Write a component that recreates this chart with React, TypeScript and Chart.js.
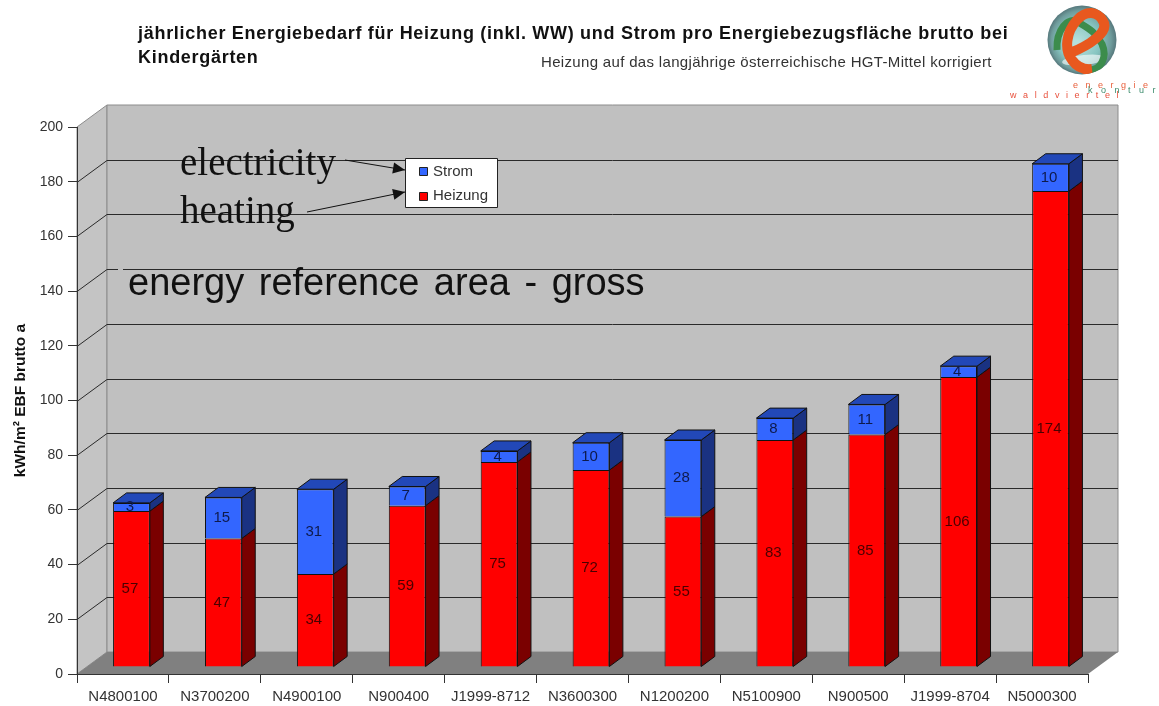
import React, { useEffect, useRef } from "react";
import { Chart, registerables } from "chart.js";

Chart.register(...registerables);

const categories = ["N4800100", "N3700200", "N4900100", "N900400", "J1999-8712", "N3600300", "N1200200", "N5100900", "N900500", "J1999-8704", "N5000300"];
const heizung = [57, 47, 34, 59, 75, 72, 55, 83, 85, 106, 174];
const strom = [3, 15, 31, 7, 4, 10, 28, 8, 11, 4, 10];
const yTitle = "kWh/m² EBF brutto a";
const titleLines = ["jährlicher Energiebedarf für Heizung (inkl. WW) und Strom pro Energiebezugsfläche brutto bei", "Kindergärten"];
const subtitle = "Heizung auf das langjährige österreichische HGT-Mittel korrigiert";

const DEPTH_X = 30, DEPTH_Y = -22;
const BAR_OX = 8.5, BAR_OY = -7;
const SIDE_X = 13.5, SIDE_Y = -10;
const SANS = '"Liberation Sans", Arial, sans-serif';
const SERIF = '"Liberation Serif", "Times New Roman", serif';

function poly(ctx: any, pts: number[][], fill: string | null, stroke: string | null, lw = 1) {
  ctx.beginPath();
  pts.forEach((p, i) => (i ? ctx.lineTo(p[0], p[1]) : ctx.moveTo(p[0], p[1])));
  ctx.closePath();
  if (fill) { ctx.fillStyle = fill; ctx.fill(); }
  if (stroke) { ctx.strokeStyle = stroke; ctx.lineWidth = lw; ctx.stroke(); }
}

function text(ctx: any, s: string, x: number, y: number, font: string, color: string, spacing = 0, wordSpacing = 0) {
  ctx.font = font;
  ctx.fillStyle = color;
  ctx.textAlign = "left";
  ctx.textBaseline = "alphabetic";
  ctx.letterSpacing = spacing + "px";
  ctx.wordSpacing = wordSpacing + "px";
  ctx.fillText(s, x, y);
  ctx.letterSpacing = "0px";
  ctx.wordSpacing = "0px";
}

function arrow(ctx: any, x0: number, y0: number, x1: number, y1: number) {
  ctx.strokeStyle = "#111";
  ctx.lineWidth = 1;
  ctx.beginPath(); ctx.moveTo(x0, y0); ctx.lineTo(x1, y1); ctx.stroke();
  const a = Math.atan2(y1 - y0, x1 - x0), l = 12, w = 5.5;
  const bx = x1 - l * Math.cos(a), by = y1 - l * Math.sin(a);
  poly(ctx, [[x1, y1], [bx - w * Math.sin(a), by + w * Math.cos(a)], [bx + w * Math.sin(a), by - w * Math.cos(a)]], "#111", null);
}

function drawLogo(ctx: any) {
  const cx = 1082, cy = 40, r = 34.5;
  ctx.save();
  const g = ctx.createRadialGradient(cx - 6, cy + 4, 4, cx, cy, r);
  g.addColorStop(0, "#b5e0dc");
  g.addColorStop(0.55, "#86c4c0");
  g.addColorStop(0.85, "#6f9c9c");
  g.addColorStop(1, "#56787c");
  ctx.beginPath(); ctx.arc(cx, cy, r, 0, Math.PI * 2); ctx.fillStyle = g; ctx.fill();
  ctx.beginPath(); ctx.arc(cx, cy, r, 0, Math.PI * 2); ctx.clip();
  ctx.fillStyle = "rgba(255,255,255,0.6)";
  ctx.beginPath(); ctx.ellipse(cx + 2, cy + 20, 22, 5, -0.1, 0, Math.PI * 2); ctx.fill();
  ctx.lineCap = "butt";
  ctx.strokeStyle = "#3c8c4c";
  ctx.lineWidth = 7;
  ctx.beginPath();
  ctx.moveTo(cx - 25, cy + 10);
  ctx.bezierCurveTo(cx - 26, cy - 10, cx - 14, cy - 24, cx - 4, cy - 18);
  ctx.bezierCurveTo(cx + 6, cy - 12, cx + 14, cy - 8, cx + 20, cy + 4);
  ctx.bezierCurveTo(cx + 26, cy + 18, cx + 18, cy + 30, cx + 8, cy + 30);
  ctx.stroke();
  ctx.strokeStyle = "#e8581e";
  ctx.lineWidth = 10;
  ctx.beginPath();
  ctx.moveTo(cx - 12, cy + 13);
  ctx.bezierCurveTo(cx + 6, cy + 6, cx + 28, cy - 8, cx + 21, cy - 19);
  ctx.bezierCurveTo(cx + 16, cy - 29, cx + 4, cy - 30, cx - 5, cy - 20);
  ctx.bezierCurveTo(cx - 16, cy - 8, cx - 18, cy + 10, cx - 10, cy + 20);
  ctx.bezierCurveTo(cx - 5, cy + 27, cx + 2, cy + 30, cx + 10, cy + 29);
  ctx.stroke();
  ctx.restore();
  text(ctx, "energie", 1073, 88, `9px ${SANS}`, "#e8603c", 7.5);
  text(ctx, "kontur", 1088, 93, `9px ${SANS}`, "#3c8c6c", 8.5);
  text(ctx, "waldviertel", 1010, 98, `9px ${SANS}`, "#e8503c", 6.6);
}

const decor = {
  id: "decor",
  beforeDraw(chart: any) {
    const { ctx, chartArea: a, scales } = chart;
    const y = scales.y;
    ctx.save();
    ctx.fillStyle = "#fff";
    ctx.fillRect(0, 0, chart.width, chart.height);
    const l = a.left, r = a.right, t = a.top, b = a.bottom;
    const bl = l + DEPTH_X, br = r + DEPTH_X, bt = t + DEPTH_Y, bb = b + DEPTH_Y;
    poly(ctx, [[l, t], [bl, bt], [bl, bb], [l, b]], "#c4c4c4", "#8c8c8c");
    poly(ctx, [[bl, bt], [br, bt], [br, bb], [bl, bb]], "#c0c0c0", "#8c8c8c");
    poly(ctx, [[l, b], [bl, bb], [br, bb], [r, b]], "#808080", null);
    ctx.strokeStyle = "#2a2a2a";
    ctx.lineWidth = 1;
    y.ticks.forEach((tk: any) => {
      if (tk.value === 0 || tk.value === 200) return;
      const py = Math.round(y.getPixelForValue(tk.value)) + 0.5;
      ctx.beginPath();
      ctx.moveTo(l, py);
      ctx.lineTo(bl, py + DEPTH_Y);
      ctx.lineTo(br, py + DEPTH_Y);
      ctx.stroke();
    });
    ctx.fillStyle = "#c0c0c0";
    ctx.fillRect(118, y.getPixelForValue(140) + DEPTH_Y - 1, 5, 3);
    ctx.restore();
  },
  beforeDatasetsDraw(chart: any) {
    const { ctx } = chart;
    ctx.save();
    ctx.translate(BAR_OX, BAR_OY);
    const sideColors = ["#7a0000", "#1a3282"];
    chart.data.datasets.forEach((_: any, di: number) => {
      chart.getDatasetMeta(di).data.forEach((el: any) => {
        const right = el.x + el.width / 2, left = el.x - el.width / 2;
        const top = el.y, bot = el.base;
        poly(ctx, [[right, top], [right + SIDE_X, top + SIDE_Y], [right + SIDE_X, bot + SIDE_Y], [right, bot]], sideColors[di], "#111");
        if (di === chart.data.datasets.length - 1) {
          poly(ctx, [[left, top], [left + SIDE_X, top + SIDE_Y], [right + SIDE_X, top + SIDE_Y], [right, top]], "#2248b8", "#111");
        }
      });
    });
  },
  afterDatasetsDraw(chart: any) {
    const { ctx } = chart;
    ctx.restore();
    ctx.save();
    const labelColors = ["#4a0000", "#0e1a4c"];
    chart.data.datasets.forEach((ds: any, di: number) => {
      chart.getDatasetMeta(di).data.forEach((el: any, i: number) => {
        const cy = (el.y + el.base) / 2 + BAR_OY;
        ctx.textBaseline = "middle";
        ctx.textAlign = "center";
        ctx.font = `15px ${SANS}`;
        ctx.fillStyle = labelColors[di];
        ctx.fillText(String(ds.data[i]), el.x + BAR_OX - 1.5, cy);
      });
    });
    // annotations
    text(ctx, "electricity", 180, 175, `39px ${SERIF}`, "#111");
    text(ctx, "heating", 180, 223, `39px ${SERIF}`, "#111");
    text(ctx, "energy reference area - gross", 128, 295, `38px ${SANS}`, "#111", 0, 4);
    arrow(ctx, 345, 160, 405, 170);
    arrow(ctx, 307, 212, 405, 192);
    // legend
    poly(ctx, [[405.5, 158.5], [497.5, 158.5], [497.5, 207.5], [405.5, 207.5]], "#fff", "#222");
    poly(ctx, [[419.5, 167.5], [427.5, 167.5], [427.5, 175.5], [419.5, 175.5]], "#3366ff", "#222");
    poly(ctx, [[419.5, 192.5], [427.5, 192.5], [427.5, 200.5], [419.5, 200.5]], "#ff0000", "#222");
    text(ctx, chart.data.datasets[1].label, 433, 176, `15px ${SANS}`, "#333");
    text(ctx, chart.data.datasets[0].label, 433, 200, `15px ${SANS}`, "#333");
    // titles
    text(ctx, titleLines[0], 138, 38.5, `bold 18px ${SANS}`, "#111", 0.71);
    text(ctx, titleLines[1], 138, 63, `bold 18px ${SANS}`, "#111", 0.71);
    text(ctx, subtitle, 541, 66.5, `15px ${SANS}`, "#333", 0.33);
    drawLogo(ctx);
    ctx.restore();
  },
};

export default function App() {
  const ref = useRef<HTMLCanvasElement>(null);
  useEffect(() => {
    const chart = new Chart(ref.current as HTMLCanvasElement, {
      type: "bar",
      data: {
        labels: categories,
        datasets: [
          { label: "Heizung", data: heizung, backgroundColor: "#ff0000", borderColor: "#111", borderWidth: 1 },
          { label: "Strom", data: strom, backgroundColor: "#3366ff", borderColor: "#111", borderWidth: 1 },
        ],
      },
      options: {
        responsive: false,
        animation: false,
        devicePixelRatio: 1,
        layout: { padding: { top: 127, right: 71, left: 0, bottom: 0 } },
        plugins: { legend: { display: false }, title: { display: false }, tooltip: { enabled: false } },
        datasets: { bar: { barPercentage: 0.4, categoryPercentage: 1 } },
        scales: {
          x: {
            stacked: true,
            afterFit: (s: any) => { s.height = 32; },
            grid: { drawOnChartArea: false, color: "#333", tickLength: 9, offset: true },
            border: { color: "#333" },
            ticks: { color: "#333", font: { family: SANS, size: 15 }, padding: 5, maxRotation: 0, autoSkip: false },
          },
          y: {
            stacked: true,
            min: 0,
            max: 200,
            afterFit: (s: any) => { s.width = 77; },
            grid: { drawOnChartArea: false, color: "#333", tickLength: 9 },
            border: { color: "#333" },
            ticks: { color: "#333", stepSize: 20, font: { family: SANS, size: 14 }, padding: 5 },
            title: { display: true, text: yTitle, color: "#111", font: { family: SANS, size: 15.5, weight: "bold" }, padding: { top: 11, bottom: 0 } },
          },
        },
      } as any,
      plugins: [decor],
    });
    return () => chart.destroy();
  }, []);
  return (
    <div style={{ position: "fixed", left: 0, top: 0, width: 1159, height: 706 }}>
      <canvas ref={ref} width={1159} height={706} style={{ display: "block" }} />
    </div>
  );
}
